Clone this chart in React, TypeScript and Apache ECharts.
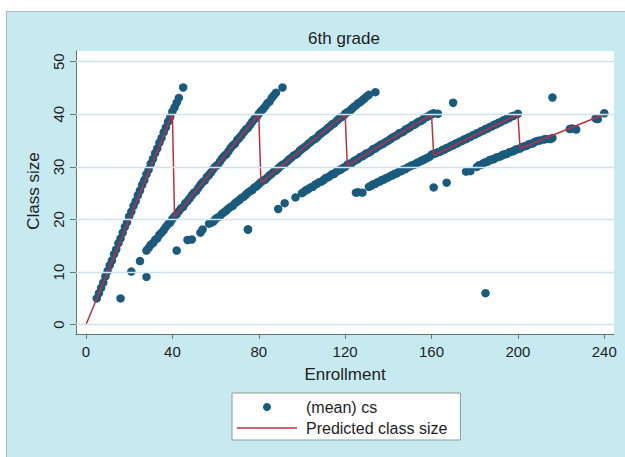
import React, { useEffect, useRef } from "react";
import * as echarts from "echarts";

// ---- data ----
const xTicks = [0, 40, 80, 120, 160, 200, 240];
const yTicks = [0, 10, 20, 30, 40, 50];

// one-class schools (class size ~ enrollment)
const branch1: [number, number][] = [
  [5, 5], [6, 6], [7, 7], [8, 8], [9, 9.2], [10, 10.2], [11, 11.3], [12, 12.2], [13, 13.4], [14, 14.3],
  [15, 15.5], [16, 16.4], [17, 17.5], [18, 18.6], [19, 19.5], [20, 20.6], [21, 21.5], [22, 22.6], [23, 23.5], [24, 24.6],
  [25, 25.5], [26, 26.6], [27, 27.5], [28, 28.6], [29, 29.5], [30, 30.6], [31, 31.5], [32, 32.6], [33, 33.5], [34, 34.6],
  [35, 35.5], [36, 36.6], [37, 37.5], [38, 38.6], [39, 39.5], [40, 40.5], [41, 41.3], [42, 42.2], [43, 43.1], [45, 45.1],
];
// two-class schools
const branch2: [number, number][] = [
  [28, 14.1], [29, 14.6], [30, 15.2], [31, 15.5], [32, 16.1], [33, 16.4], [34, 17.1], [35, 17.5], [36, 18.0], [37, 18.6],
  [38, 19.1], [39, 19.4], [40, 20.1], [41, 20.6], [42, 21.0], [43, 21.6], [44, 22.1], [45, 22.4], [46, 23.1], [47, 23.5],
  [48, 24.0], [49, 24.6], [50, 25.1], [51, 25.4], [52, 26.0], [53, 26.6], [54, 27.1], [55, 27.4], [56, 28.1], [57, 28.5],
  [58, 29.0], [59, 29.6], [60, 30.1], [61, 30.4], [62, 31.0], [63, 31.6], [64, 32.1], [65, 32.4], [66, 33.0], [67, 33.6],
  [68, 34.1], [69, 34.4], [70, 35.1], [71, 35.5], [72, 36.0], [73, 36.6], [74, 37.1], [75, 37.4], [76, 38.0], [77, 38.6],
  [78, 39.1], [79, 39.4], [80, 40.1], [81, 40.6], [82, 41.0], [83, 41.5], [84, 42.1], [85, 42.4], [86, 43.1], [87, 43.6],
  [88, 44.1], [91, 45.1],
];
// three-class schools
const branch3: [number, number][] = [
  [42, 14.1], [47, 16.1], [49, 16.2], [53, 17.5], [54, 18.1],
  [57, 19.2], [58, 19.4], [59, 19.6], [60, 20.1], [61, 20.4], [62, 20.6], [63, 21.1], [64, 21.4], [65, 21.7], [66, 22.1],
  [67, 22.4], [68, 22.6], [69, 23.1], [70, 23.4], [71, 23.7], [72, 24.1], [73, 24.3], [74, 24.7], [75, 25.1], [76, 25.4],
  [77, 25.6], [78, 26.1], [79, 26.3], [80, 26.7], [81, 27.1], [82, 27.4], [83, 27.6], [84, 28.0], [85, 28.4], [86, 28.7],
  [87, 29.1], [88, 29.3], [89, 29.7], [90, 30.1], [91, 30.4], [92, 30.6], [93, 31.0], [94, 31.4], [95, 31.7], [96, 32.1],
  [97, 32.3], [98, 32.6], [99, 33.1], [100, 33.4], [101, 33.7], [102, 34.0], [103, 34.4], [104, 34.7], [105, 35.1], [106, 35.3],
  [107, 35.6], [108, 36.1], [109, 36.4], [110, 36.7], [111, 37.0], [112, 37.4], [113, 37.7], [114, 38.1], [115, 38.3], [116, 38.7],
  [117, 39.1], [118, 39.4], [119, 39.6], [120, 40.1], [121, 40.4], [122, 40.6], [123, 41.0], [124, 41.4], [125, 41.7], [126, 42.1],
  [127, 42.3], [128, 42.7], [129, 43.0], [130, 43.4], [131, 43.7], [134, 44.2],
];
// four-class schools
const branch4: [number, number][] = [
  [75, 18.1], [89, 22.0], [92, 23.1], [97, 24.2], [100, 25.0],
  [101, 25.3], [102, 25.6], [103, 25.8], [104, 26.1], [105, 26.2], [106, 26.6], [107, 26.8], [108, 27.1], [109, 27.2], [110, 27.5],
  [111, 27.9], [112, 28.0], [113, 28.3], [114, 28.6], [115, 28.7], [116, 29.1], [117, 29.3], [118, 29.5], [119, 29.8], [120, 30.0],
  [121, 30.4], [122, 30.6], [123, 30.7], [124, 31.1], [125, 31.3], [126, 31.5], [127, 31.9], [128, 32.0], [129, 32.3], [130, 32.6],
  [131, 32.7], [132, 33.0], [133, 33.4], [134, 33.5], [135, 33.8], [136, 34.1], [137, 34.3], [138, 34.5], [139, 34.8], [140, 35.0],
  [141, 35.3], [142, 35.6], [143, 35.8], [144, 36.0], [145, 36.4], [146, 36.5], [147, 36.7], [148, 37.1], [149, 37.3], [150, 37.5],
  [151, 37.9], [152, 38.0], [153, 38.3], [154, 38.6], [155, 38.7], [156, 39.0], [157, 39.4], [158, 39.5], [159, 39.8], [160, 40.0],
  [161, 40.2], [163, 40.1],
];
// five-class schools
const branch5: [number, number][] = [
  [125, 25.1], [126, 25.2], [128, 25.1], [131, 26.2], [132, 26.4], [133, 26.7], [134, 26.8], [135, 27.1], [136, 27.2], [137, 27.5],
  [138, 27.6], [139, 27.9], [140, 28.0], [141, 28.3], [142, 28.4], [143, 28.7], [144, 28.8], [145, 29.1], [146, 29.2], [147, 29.5],
  [148, 29.6], [149, 29.9], [150, 30.1], [151, 30.3], [152, 30.4], [153, 30.7], [154, 30.9], [155, 31.1], [156, 31.3], [157, 31.5],
  [158, 31.7], [159, 31.9], [160, 32.3], [161, 32.5], [162, 32.6], [163, 32.8], [164, 32.9], [165, 33.2], [166, 33.3], [167, 33.6],
  [168, 33.7], [169, 34.0], [170, 34.1], [171, 34.4], [172, 34.5], [173, 34.8], [174, 34.9], [175, 35.2], [176, 35.3], [177, 35.6],
  [178, 35.7], [179, 36.0], [180, 36.1], [181, 36.4], [182, 36.5], [183, 36.8], [184, 36.9], [185, 37.2], [186, 37.3], [187, 37.6],
  [188, 37.7], [189, 38.0], [190, 38.1], [191, 38.4], [192, 38.5], [193, 38.8], [194, 38.9], [195, 39.2], [196, 39.3], [197, 39.6],
  [198, 39.7], [200, 40.1],
];
// six-class schools
const branch6: [number, number][] = [
  [176, 29.1], [178, 29.2], [181, 30.0], [182, 30.3], [183, 30.4], [184, 30.7], [185, 30.9], [186, 31.0], [187, 31.3], [188, 31.4],
  [189, 31.5], [190, 31.8], [191, 31.9], [192, 32.0], [193, 32.3], [194, 32.4], [195, 32.5], [196, 32.8], [197, 32.9], [198, 33.0],
  [199, 33.3], [200, 33.4], [201, 33.5], [202, 33.8], [203, 33.9], [204, 34.0], [205, 34.3], [206, 34.4], [207, 34.5], [208, 34.8],
  [209, 34.9], [210, 35.0], [212, 35.2], [213, 35.3], [215, 35.3], [216, 35.5], [224, 37.2], [225, 37.3], [227, 37.1], [236, 39.2],
  [237, 39.1], [240, 40.2],
];
// isolated schools
const outliers: [number, number][] = [
  [16, 5.0], [21, 10.1], [25, 12.1], [28, 9.1], [75, 18.1], [161, 26.1], [167, 27.0], [170, 42.2], [216, 43.2], [185, 6.0],
];

// predicted class size (Maimonides' rule)
const predEnrollment = [0, 40, 41, 80, 81, 120, 121, 160, 161, 200, 201, 240];
const predClassSize = [0, 40, 20.5, 40, 27, 40, 30.25, 40, 32.2, 40, 33.5, 40];

const FONT = '"Liberation Sans", Arial, Helvetica, sans-serif';
const TEXT = "#1e1e1e";
const AXIS = "#5a7a70";
const GRID = "#cfe3ee";
const DOT = "#1a5b7d";
const RED = "#bd2f3e";
const BG = "#c7eaf1";

export default function App() {
  const ref = useRef<HTMLDivElement>(null);
  useEffect(() => {
    if (!ref.current) return;
    const chart = echarts.init(ref.current, undefined, { renderer: "svg" });
    const scatterData = [...branch1, ...branch2, ...branch3, ...branch4, ...branch5, ...branch6, ...outliers];
    const predData = predEnrollment.map((e, i) => [e, predClassSize[i]]);
    chart.setOption({
      animation: false,
      backgroundColor: BG,
      textStyle: { fontFamily: FONT },
      grid: {
        left: 69,
        top: 39,
        right: 11,
        bottom: 123,
        show: true,
        backgroundColor: "#ffffff",
        borderWidth: 0,
        containLabel: false,
      },
      graphic: [
        {
          type: "text",
          x: 337,
          y: 26,
          style: {
            text: "6th grade",
            fill: TEXT,
            font: `17px ${FONT}`,
            textAlign: "center",
            textVerticalAlign: "middle",
            align: "center",
            verticalAlign: "middle",
          },
        },
        {
          type: "text",
          x: 338,
          y: 362,
          style: {
            text: "Enrollment",
            fill: TEXT,
            font: `17px ${FONT}`,
            textAlign: "center",
            textVerticalAlign: "middle",
            align: "center",
            verticalAlign: "middle",
          },
        },
        {
          type: "text",
          x: 26,
          y: 179,
          rotation: Math.PI / 2,
          style: {
            text: "Class size",
            fill: TEXT,
            font: `17px ${FONT}`,
            textAlign: "center",
            textVerticalAlign: "middle",
            align: "center",
            verticalAlign: "middle",
          },
        },
      ],
      legend: {
        orient: "vertical",
        left: 225,
        top: 381,
        backgroundColor: "#ffffff",
        borderColor: "#8a9b97",
        borderWidth: 1,
        borderRadius: 0,
        padding: [6, 13, 4, 5],
        itemWidth: 60,
        itemHeight: 8,
        itemGap: 5,
        textStyle: { fontSize: 16, color: TEXT, fontFamily: FONT, padding: [0, 0, 0, 4] },
        data: [
          { name: "(mean) cs", icon: "circle" },
          { name: "Predicted class size", icon: "path://M0,0H60V1.5H0Z" },
        ],
      },
      xAxis: {
        type: "value",
        min: -4.63,
        max: 244.5,
        splitLine: { show: false },
        axisLine: { show: true, onZero: false, lineStyle: { color: AXIS, width: 1 } },
        axisTick: { show: true, length: 5, customValues: xTicks, lineStyle: { color: AXIS } },
        axisLabel: { customValues: xTicks, fontSize: 15, color: TEXT, margin: 10, fontFamily: FONT },
      },
      yAxis: {
        type: "value",
        min: -1.77,
        max: 52.03,
        splitLine: { show: false },
        axisLine: { show: true, onZero: false, lineStyle: { color: AXIS, width: 1 } },
        axisTick: { show: true, length: 6, customValues: yTicks, lineStyle: { color: AXIS } },
        axisLabel: { customValues: yTicks, fontSize: 15, color: TEXT, margin: 10, rotate: 90, fontFamily: FONT },
      },
      series: [
        {
          type: "line",
          name: "grid",
          data: [],
          z: 1,
          silent: true,
          markLine: {
            silent: true,
            symbol: ["none", "none"],
            label: { show: false },
            lineStyle: { color: GRID, width: 1.3, type: "solid" },
            emphasis: { disabled: true },
            data: yTicks.map((v) => ({ yAxis: v })),
          },
        },
        {
          type: "scatter",
          name: "(mean) cs",
          symbol: "circle",
          symbolSize: 8.5,
          itemStyle: { color: DOT, opacity: 1 },
          data: scatterData,
          z: 2,
        },
        {
          type: "line",
          name: "Predicted class size",
          symbol: "none",
          lineStyle: { color: RED, width: 1.5 },
          itemStyle: { color: RED },
          data: predData,
          z: 3,
        },
      ],
    });
    return () => chart.dispose();
  }, []);
  return (
    <div style={{ position: "fixed", left: 0, top: 0, width: 625, height: 457, background: "#ffffff", overflow: "hidden" }}>
      <div
        style={{
          position: "absolute",
          left: 6,
          top: 11,
          width: 619,
          height: 446,
          borderLeft: "1px solid #a9bcc3",
          borderTop: "1px solid #a9bcc3",
          boxSizing: "border-box",
        }}
      >
        <div ref={ref} style={{ width: 618, height: 445 }} />
      </div>
    </div>
  );
}
